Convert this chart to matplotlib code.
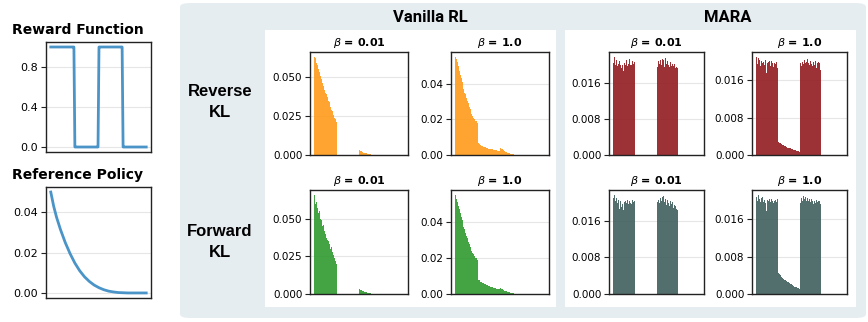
import numpy as np
import matplotlib.pyplot as plt
from matplotlib.patches import FancyBboxPatch, Rectangle

W, H = 868, 322

# ---- data (100 states, four quarters of 25) ----
states = np.arange(100)
zeros25 = [0.0] * 25

reward = [1.0] * 25 + [0.0] * 25 + [1.0] * 25 + [0.0] * 25

ref_x = [0, 3, 6, 10, 15, 20, 25, 30, 35, 40, 45, 50, 55, 60, 65, 70, 75, 80, 85, 90, 95, 99]
ref_policy = [0.050, 0.0430, 0.0375, 0.0315, 0.0250, 0.0195, 0.0148, 0.0110, 0.0080, 0.0057, 0.0039,
              0.0026, 0.0016, 0.0009, 0.0005, 0.0002, 0.0001, 0.0, 0.0, 0.0, 0.0, 0.0]

# Vanilla RL, reverse KL
vr_rev_001_a = [0.063, 0.062, 0.059, 0.058, 0.055, 0.053, 0.051, 0.049, 0.047, 0.046, 0.044, 0.042, 0.040,
                0.039, 0.037, 0.035, 0.034, 0.032, 0.031, 0.029, 0.028, 0.026, 0.024, 0.023, 0.021]
vr_rev_001_c = [0.0030, 0.0027, 0.0024, 0.0021, 0.0019, 0.0016, 0.0014, 0.0012, 0.0010, 0.0009, 0.0007,
                0.0006, 0.0005, 0.0004, 0.0003, 0.0003, 0.0002, 0.0002, 0.0001, 0.0001, 0.0001, 0, 0, 0, 0]
vr_rev_1_a = [0.055, 0.054, 0.052, 0.050, 0.047, 0.045, 0.043, 0.041, 0.039, 0.037, 0.035, 0.034, 0.032,
              0.030, 0.029, 0.027, 0.026, 0.025, 0.023, 0.022, 0.021, 0.020, 0.019, 0.019, 0.018]
vr_rev_1_b = [0.0066, 0.0062, 0.0058, 0.0055, 0.0052, 0.0050, 0.0047, 0.0045, 0.0043, 0.0041, 0.0040,
              0.0038, 0.0036, 0.0035, 0.0034, 0.0032, 0.0031, 0.0030, 0.0029, 0.0028, 0.0027, 0.0026,
              0.0025, 0.0024, 0.0023]
vr_rev_1_c = [0.0037, 0.0034, 0.0031, 0.0028, 0.0025, 0.0022, 0.0019, 0.0017, 0.0014, 0.0012, 0.0010,
              0.0008, 0.0007, 0.0005, 0.0004, 0.0003, 0.0002, 0.0002, 0.0001, 0.0001, 0.0001, 0, 0, 0, 0]

# Vanilla RL, forward KL
vr_fwd_001_a = [0.066, 0.060, 0.061, 0.057, 0.054, 0.055, 0.050, 0.049, 0.047, 0.045, 0.046, 0.042, 0.040,
                0.037, 0.036, 0.035, 0.033, 0.031, 0.030, 0.031, 0.028, 0.026, 0.024, 0.022, 0.020]
vr_fwd_001_c = [0.0031, 0.0028, 0.0026, 0.0022, 0.0020, 0.0017, 0.0015, 0.0013, 0.0011, 0.0009, 0.0008,
                0.0006, 0.0005, 0.0004, 0.0003, 0.0003, 0.0002, 0.0001, 0.0001, 0.0001, 0, 0, 0, 0, 0]
vr_fwd_1_a = [0.055, 0.053, 0.051, 0.049, 0.047, 0.045, 0.043, 0.041, 0.039, 0.037, 0.036, 0.034, 0.032,
              0.031, 0.029, 0.028, 0.026, 0.025, 0.024, 0.023, 0.022, 0.021, 0.020, 0.020, 0.019]
vr_fwd_1_b = [0.0080, 0.0076, 0.0072, 0.0068, 0.0065, 0.0062, 0.0059, 0.0056, 0.0054, 0.0051, 0.0049,
              0.0047, 0.0045, 0.0043, 0.0041, 0.0039, 0.0037, 0.0035, 0.0034, 0.0032, 0.0031, 0.0029,
              0.0028, 0.0027, 0.0025]
vr_fwd_1_c = [0.0032, 0.0030, 0.0027, 0.0024, 0.0021, 0.0019, 0.0016, 0.0014, 0.0012, 0.0010, 0.0009,
              0.0007, 0.0006, 0.0005, 0.0004, 0.0003, 0.0002, 0.0002, 0.0001, 0.0001, 0, 0, 0, 0, 0]

# MARA, reverse KL
ma_rev_001_a = [0.0205, 0.0218, 0.0200, 0.0212, 0.0198, 0.0203, 0.0196, 0.0210, 0.0201, 0.0194, 0.0199,
                0.0186, 0.0205, 0.0192, 0.0200, 0.0211, 0.0197, 0.0203, 0.0214, 0.0199, 0.0206, 0.0201,
                0.0208, 0.0203, 0.0207]
ma_rev_001_c = [0.0205, 0.0196, 0.0208, 0.0203, 0.0211, 0.0200, 0.0214, 0.0207, 0.0212, 0.0196, 0.0215,
                0.0203, 0.0209, 0.0199, 0.0210, 0.0195, 0.0206, 0.0198, 0.0203, 0.0197, 0.0202, 0.0194,
                0.0199, 0.0196, 0.0193]
ma_rev_1_a = [0.0210, 0.0195, 0.0208, 0.0203, 0.0190, 0.0201, 0.0188, 0.0196, 0.0199, 0.0192, 0.0203,
              0.0175, 0.0197, 0.0205, 0.0199, 0.0201, 0.0190, 0.0202, 0.0196, 0.0188, 0.0203, 0.0197,
              0.0194, 0.0199, 0.0186]
ma_rev_1_b = [0.0028, 0.0026, 0.0025, 0.0024, 0.0023, 0.0022, 0.0021, 0.0020, 0.0019, 0.0018, 0.0017,
              0.0016, 0.0015, 0.0015, 0.0014, 0.0013, 0.0012, 0.0012, 0.0011, 0.0010, 0.0010, 0.0009,
              0.0008, 0.0008, 0.0007]
ma_rev_1_c = [0.0188, 0.0196, 0.0191, 0.0200, 0.0194, 0.0203, 0.0196, 0.0208, 0.0199, 0.0205, 0.0197,
              0.0193, 0.0201, 0.0195, 0.0204, 0.0190, 0.0199, 0.0192, 0.0201, 0.0186, 0.0196, 0.0199,
              0.0194, 0.0197, 0.0182]

# MARA, forward KL
ma_fwd_001_a = [0.0210, 0.0217, 0.0204, 0.0211, 0.0199, 0.0207, 0.0193, 0.0186, 0.0203, 0.0190, 0.0198,
                0.0184, 0.0201, 0.0195, 0.0203, 0.0199, 0.0206, 0.0197, 0.0204, 0.0200, 0.0207, 0.0198,
                0.0205, 0.0202, 0.0204]
ma_fwd_001_c = [0.0204, 0.0201, 0.0206, 0.0199, 0.0210, 0.0203, 0.0212, 0.0205, 0.0214, 0.0201, 0.0209,
                0.0196, 0.0206, 0.0200, 0.0207, 0.0193, 0.0204, 0.0197, 0.0202, 0.0189, 0.0195, 0.0192,
                0.0190, 0.0187, 0.0184]
ma_fwd_1_a = [0.0208, 0.0199, 0.0212, 0.0203, 0.0196, 0.0205, 0.0200, 0.0207, 0.0197, 0.0202, 0.0195,
              0.0178, 0.0201, 0.0206, 0.0198, 0.0203, 0.0196, 0.0204, 0.0199, 0.0195, 0.0205, 0.0198,
              0.0201, 0.0197, 0.0203]
ma_fwd_1_b = [0.0046, 0.0042, 0.0040, 0.0038, 0.0036, 0.0034, 0.0033, 0.0031, 0.0030, 0.0028, 0.0027,
              0.0026, 0.0025, 0.0023, 0.0022, 0.0021, 0.0020, 0.0018, 0.0017, 0.0016, 0.0015, 0.0014,
              0.0013, 0.0012, 0.0010]
ma_fwd_1_c = [0.0201, 0.0195, 0.0205, 0.0199, 0.0210, 0.0203, 0.0207, 0.0212, 0.0200, 0.0206, 0.0198,
              0.0203, 0.0196, 0.0204, 0.0190, 0.0198, 0.0193, 0.0200, 0.0194, 0.0202, 0.0196, 0.0199,
              0.0195, 0.0198, 0.0193]

panels = [
    # (values, colour, ticks, fmt, box in pixels l,t,r,b)
    (vr_rev_001_a + zeros25 + vr_rev_001_c + zeros25, '#ff9a1a', [0, 0.025, 0.05], '%.3f', (310, 52, 408, 155)),
    (vr_rev_1_a + vr_rev_1_b + vr_rev_1_c + zeros25, '#ff9a1a', [0, 0.02, 0.04], '%.2f', (451, 52, 549, 155)),
    (vr_fwd_001_a + zeros25 + vr_fwd_001_c + zeros25, '#2f9a2f', [0, 0.025, 0.05], '%.3f', (310, 190, 408, 294)),
    (vr_fwd_1_a + vr_fwd_1_b + vr_fwd_1_c + zeros25, '#2f9a2f', [0, 0.02, 0.04], '%.2f', (451, 190, 549, 294)),
    (ma_rev_001_a + zeros25 + ma_rev_001_c + zeros25, '#931c20', [0, 0.008, 0.016], '%.3f', (609, 52, 704, 155)),
    (ma_rev_1_a + ma_rev_1_b + ma_rev_1_c + zeros25, '#931c20', [0, 0.008, 0.016], '%.3f', (752, 52, 847, 155)),
    (ma_fwd_001_a + zeros25 + ma_fwd_001_c + zeros25, '#3f5f5d', [0, 0.008, 0.016], '%.3f', (609, 190, 704, 294)),
    (ma_fwd_1_a + ma_fwd_1_b + ma_fwd_1_c + zeros25, '#3f5f5d', [0, 0.008, 0.016], '%.3f', (752, 190, 847, 294)),
]
betas = ['0.01', '1.0', '0.01', '1.0', '0.01', '1.0', '0.01', '1.0']


def box(l, t, r, b):
    return [l / W, 1 - b / H, (r - l) / W, (b - t) / H]


def style(ax, ticks, fmt, size):
    for s in ax.spines.values():
        s.set_color('#222222')
        s.set_linewidth(1.0)
    ax.set_xticks([])
    ax.set_yticks(ticks)
    ax.set_yticklabels([fmt % t for t in ticks], fontsize=size)
    ax.tick_params(axis='y', length=3.5, width=0.8, pad=2, color='#222222')
    ax.grid(axis='y', color='#e6e6e6', linewidth=0.8)
    ax.set_axisbelow(True)


fig = plt.figure(figsize=(W / 100, H / 100), dpi=100)

# background card and white panels
fig.add_artist(FancyBboxPatch((180 / W, 1 - 318 / H), 686 / W, 315 / H,
                              boxstyle='round,pad=0,rounding_size=0.012',
                              transform=fig.transFigure, facecolor='#e6edf1', edgecolor='none', zorder=-2))
fig.add_artist(Rectangle((265 / W, 1 - 307 / H), 291 / W, 277 / H, transform=fig.transFigure,
                         facecolor='white', edgecolor='none', zorder=-1))
fig.add_artist(Rectangle((565 / W, 1 - 307 / H), 291 / W, 277 / H, transform=fig.transFigure,
                         facecolor='white', edgecolor='none', zorder=-1))

# left column
ax = fig.add_axes(box(46, 42, 151, 152))
ax.plot(states, reward, color='#4a94c8', linewidth=2)
ax.set_ylim(-0.05, 1.05)
style(ax, [0, 0.4, 0.8], '%.1f', 8)
fig.text(78 / W, 1 - 30 / H, 'Reward Function', ha='center', va='center', fontsize=10, fontweight='bold')

ax = fig.add_axes(box(46, 187, 151, 298))
ax.plot(ref_x, ref_policy, color='#4a94c8', linewidth=2)
style(ax, [0, 0.02, 0.04], '%.2f', 8)
fig.text(78 / W, 1 - 175 / H, 'Reference Policy', ha='center', va='center', fontsize=10, fontweight='bold')

# bar panels
for (vals, col, ticks, fmt, px), b in zip(panels, betas):
    ax = fig.add_axes(box(*px))
    ax.bar(states, vals, width=1.0, color=col, alpha=0.9, linewidth=0)
    style(ax, ticks, fmt, 7.5)
    ax.set_title(r'$\beta$ = ' + b, fontsize=8, fontweight='bold', pad=4)

# headers
fig.text(430 / W, 1 - 17 / H, 'Vanilla RL', ha='center', va='center', fontsize=12,
         fontweight='bold', family='Roboto')
fig.text(728 / W, 1 - 17 / H, 'MARA', ha='center', va='center', fontsize=12,
         fontweight='bold', family='Roboto')
fig.text(220 / W, 1 - 102 / H, 'Reverse\nKL', ha='center', va='center', fontsize=12,
         fontweight='bold', family='Liberation Sans', linespacing=1.45)
fig.text(220 / W, 1 - 242 / H, 'Forward\nKL', ha='center', va='center', fontsize=12,
         fontweight='bold', family='Liberation Sans', linespacing=1.45)

fig.savefig('out.png', dpi=100)
